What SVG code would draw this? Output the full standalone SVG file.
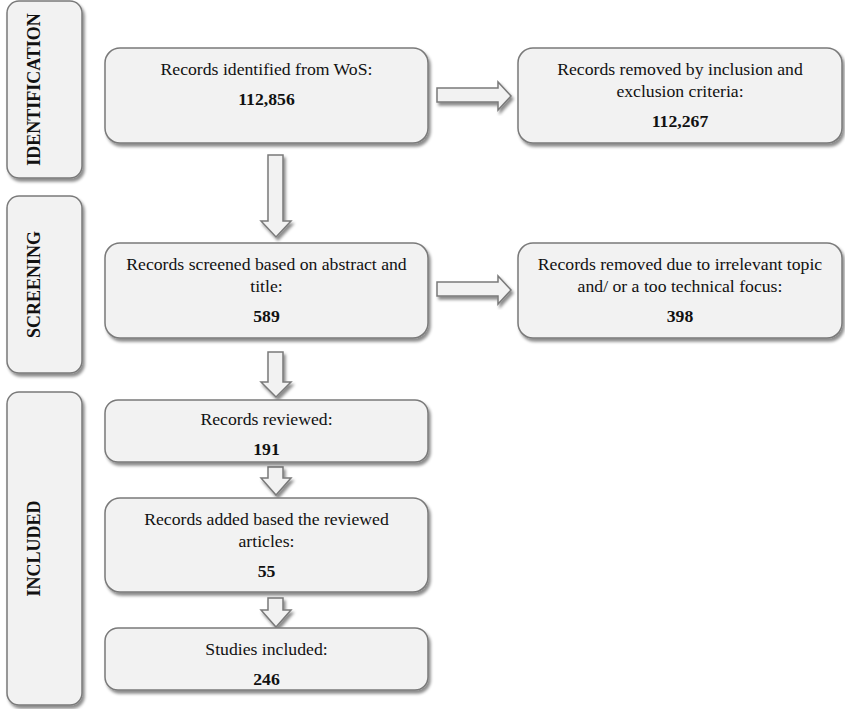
<svg xmlns="http://www.w3.org/2000/svg" width="845" height="709" viewBox="0 0 845 709">
<defs>
<filter id="sh" x="-10%" y="-10%" width="130%" height="130%">
<feDropShadow dx="2" dy="3" stdDeviation="1.6" flood-color="#000" flood-opacity="0.45"/>
</filter>
<style>
.box{fill:#f2f2f2;stroke:#7a7a7a;stroke-width:1.5;filter:url(#sh);}
.arr{fill:#f2f2f2;stroke:#7a7a7a;stroke-width:1.5;filter:url(#sh);stroke-linejoin:miter;}
text{font-family:'Liberation Serif',serif;fill:#111;text-anchor:middle;}
.t{font-size:17.7px;}
.b{font-weight:bold;}
.stage{font-size:18px;font-weight:bold;}
</style>
</defs>
<rect width="845" height="709" fill="#ffffff"/>

<g id="stage-identification">
<rect class="box" x="7" y="1" width="75" height="177" rx="12"/>
<text class="stage" font-family="Liberation Serif" transform="translate(39.5,89.5) rotate(-90)">IDENTIFICATION</text>
</g>
<g id="stage-screening">
<rect class="box" x="7" y="196" width="75" height="177" rx="12"/>
<text class="stage" font-family="Liberation Serif" transform="translate(39.5,284.5) rotate(-90)">SCREENING</text>
</g>
<g id="stage-included">
<rect class="box" x="7" y="392" width="75" height="313" rx="12"/>
<text class="stage" font-family="Liberation Serif" transform="translate(39.5,548.5) rotate(-90)">INCLUDED</text>
</g>

<g id="connectors">
<polygon class="arr" points="268,155 283,155 283,221 291,221 276,237 261,221 268,221"/>
<polygon class="arr" points="268,352 283,352 283,382 291,382 276,397 261,382 268,382"/>
<polygon class="arr" points="268,467 283,467 283,478 291,478 276,495 261,478 268,478"/>
<polygon class="arr" points="268,598 283,598 283,610 291,610 276,627 261,610 268,610"/>
<polygon class="arr" points="437,88 498,88 498,82 511,96 498,110 498,102 437,102"/>
<polygon class="arr" points="437,282 498,282 498,276 511,290 498,304 498,296 437,296"/>
</g>

<g id="identified" font-family="Liberation Serif">
<rect class="box" x="105" y="48" width="323" height="95" rx="15"/>
<text class="t" x="266.5" y="75">Records identified from WoS:</text>
<text class="t b" x="266.5" y="105">112,856</text>
</g>
<g id="removed-criteria" font-family="Liberation Serif">
<rect class="box" x="518" y="48" width="324" height="95" rx="15"/>
<text class="t" x="680" y="75">Records removed by inclusion and</text>
<text class="t" x="680" y="97">exclusion criteria:</text>
<text class="t b" x="680" y="127">112,267</text>
</g>
<g id="screened" font-family="Liberation Serif">
<rect class="box" x="105" y="243" width="323" height="95" rx="15"/>
<text class="t" x="266.5" y="270">Records screened based on abstract and</text>
<text class="t" x="266.5" y="292">title:</text>
<text class="t b" x="266.5" y="322">589</text>
</g>
<g id="removed-topic" font-family="Liberation Serif">
<rect class="box" x="518" y="243" width="324" height="95" rx="15"/>
<text class="t" x="680" y="270">Records removed due to irrelevant topic</text>
<text class="t" x="680" y="292">and/ or a too technical focus:</text>
<text class="t b" x="680" y="322">398</text>
</g>
<g id="reviewed" font-family="Liberation Serif">
<rect class="box" x="105" y="400" width="323" height="62" rx="13"/>
<text class="t" x="266.5" y="425">Records reviewed:</text>
<text class="t b" x="266.5" y="455">191</text>
</g>
<g id="added" font-family="Liberation Serif">
<rect class="box" x="105" y="498" width="323" height="94" rx="15"/>
<text class="t" x="266.5" y="525">Records added based the reviewed</text>
<text class="t" x="266.5" y="547">articles:</text>
<text class="t b" x="266.5" y="577">55</text>
</g>
<g id="included" font-family="Liberation Serif">
<rect class="box" x="105" y="628" width="323" height="62" rx="13"/>
<text class="t" x="266.5" y="655">Studies included:</text>
<text class="t b" x="266.5" y="685">246</text>
</g>
</svg>
